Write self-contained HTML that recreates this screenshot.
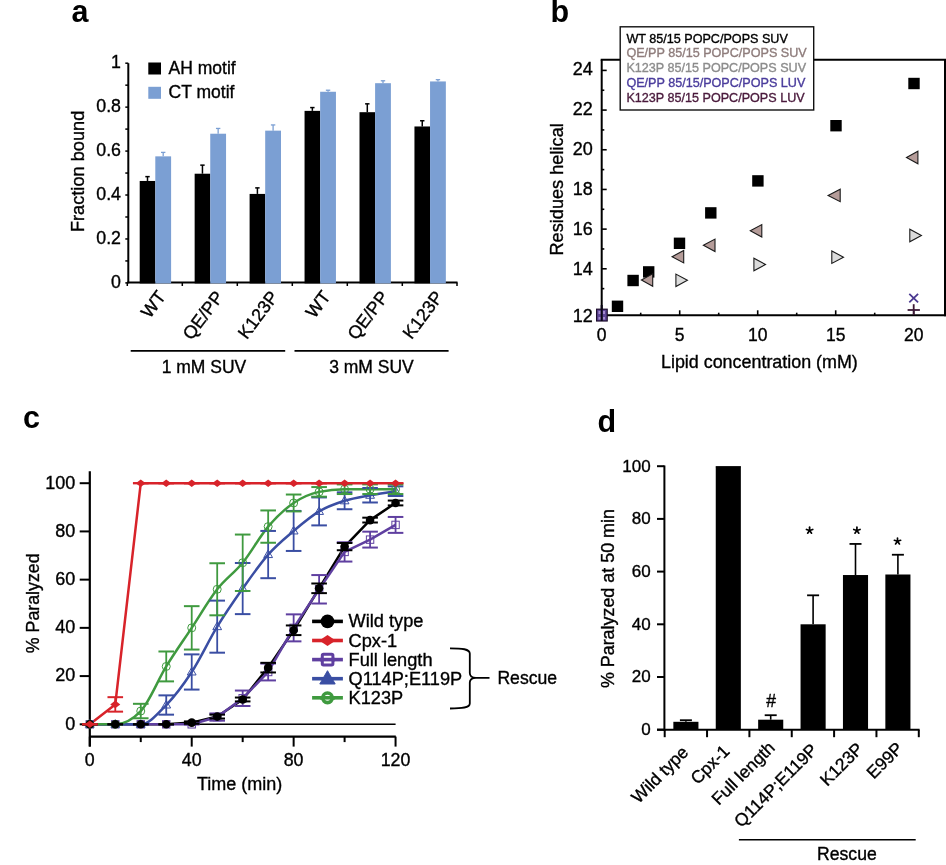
<!DOCTYPE html>
<html><head><meta charset="utf-8"><style>
html,body{margin:0;padding:0;background:#fff;}
svg{display:block;font-family:"Liberation Sans", sans-serif;will-change:transform;} text{stroke-width:0.35px;}
</style></head><body>
<svg width="946" height="865" viewBox="0 0 946 865">
<rect width="946" height="865" fill="#fff"/>
<text id="t1" x="71.50" y="22.20" font-size="30.5" text-anchor="start" fill="#000" font-weight="bold" >a</text>
<line x1="128.30" y1="63.20" x2="128.30" y2="283.20" stroke="#000" stroke-width="2" />
<line x1="125.30" y1="282.90" x2="128.30" y2="282.90" stroke="#000" stroke-width="1.5" />
<line x1="125.30" y1="260.93" x2="128.30" y2="260.93" stroke="#000" stroke-width="1.5" />
<line x1="125.30" y1="238.96" x2="128.30" y2="238.96" stroke="#000" stroke-width="1.5" />
<line x1="125.30" y1="216.99" x2="128.30" y2="216.99" stroke="#000" stroke-width="1.5" />
<line x1="125.30" y1="195.02" x2="128.30" y2="195.02" stroke="#000" stroke-width="1.5" />
<line x1="125.30" y1="173.05" x2="128.30" y2="173.05" stroke="#000" stroke-width="1.5" />
<line x1="125.30" y1="151.08" x2="128.30" y2="151.08" stroke="#000" stroke-width="1.5" />
<line x1="125.30" y1="129.11" x2="128.30" y2="129.11" stroke="#000" stroke-width="1.5" />
<line x1="125.30" y1="107.14" x2="128.30" y2="107.14" stroke="#000" stroke-width="1.5" />
<line x1="125.30" y1="85.17" x2="128.30" y2="85.17" stroke="#000" stroke-width="1.5" />
<line x1="125.30" y1="63.20" x2="128.30" y2="63.20" stroke="#000" stroke-width="1.5" />
<text id="t2" x="121.00" y="287.90" font-size="17.8" text-anchor="end" fill="#000" stroke="#000" font-weight="normal" >0</text>
<text id="t3" x="121.00" y="243.96" font-size="17.8" text-anchor="end" fill="#000" stroke="#000" font-weight="normal" >0.2</text>
<text id="t4" x="121.00" y="200.02" font-size="17.8" text-anchor="end" fill="#000" stroke="#000" font-weight="normal" >0.4</text>
<text id="t5" x="121.00" y="156.08" font-size="17.8" text-anchor="end" fill="#000" stroke="#000" font-weight="normal" >0.6</text>
<text id="t6" x="121.00" y="112.14" font-size="17.8" text-anchor="end" fill="#000" stroke="#000" font-weight="normal" >0.8</text>
<text id="t7" x="121.00" y="68.20" font-size="17.8" text-anchor="end" fill="#000" stroke="#000" font-weight="normal" >1</text>
<text id="t8" x="84.40" y="171.60" font-size="18.2" text-anchor="middle" fill="#000" stroke="#000" font-weight="normal" transform="rotate(-90 84.2 171.6)" >Fraction bound</text>
<line x1="127.30" y1="282.40" x2="457.50" y2="282.40" stroke="#000" stroke-width="2" />
<line x1="127.30" y1="282.40" x2="127.30" y2="286.00" stroke="#000" stroke-width="1.5" />
<line x1="182.30" y1="282.40" x2="182.30" y2="286.00" stroke="#000" stroke-width="1.5" />
<line x1="237.30" y1="282.40" x2="237.30" y2="286.00" stroke="#000" stroke-width="1.5" />
<line x1="292.30" y1="282.40" x2="292.30" y2="286.00" stroke="#000" stroke-width="1.5" />
<line x1="347.30" y1="282.40" x2="347.30" y2="286.00" stroke="#000" stroke-width="1.5" />
<line x1="402.30" y1="282.40" x2="402.30" y2="286.00" stroke="#000" stroke-width="1.5" />
<line x1="457.00" y1="282.40" x2="457.00" y2="286.00" stroke="#000" stroke-width="1.5" />
<rect x="139.70" y="180.96" width="15.60" height="102.44" fill="#000" />
<line x1="147.50" y1="180.96" x2="147.50" y2="176.63" stroke="#000" stroke-width="1.5" />
<line x1="145.30" y1="176.63" x2="149.70" y2="176.63" stroke="#000" stroke-width="1.5" />
<rect x="155.30" y="156.35" width="15.80" height="127.05" fill="#7b9fd3" />
<line x1="163.20" y1="156.35" x2="163.20" y2="152.40" stroke="#7b9fd3" stroke-width="1.3" />
<line x1="161.00" y1="152.40" x2="165.40" y2="152.40" stroke="#7b9fd3" stroke-width="1.3" />
<rect x="194.65" y="173.71" width="15.60" height="109.69" fill="#000" />
<line x1="202.45" y1="173.71" x2="202.45" y2="165.14" stroke="#000" stroke-width="1.5" />
<line x1="200.25" y1="165.14" x2="204.65" y2="165.14" stroke="#000" stroke-width="1.5" />
<rect x="210.25" y="133.72" width="15.80" height="149.68" fill="#7b9fd3" />
<line x1="218.15" y1="133.72" x2="218.15" y2="128.45" stroke="#7b9fd3" stroke-width="1.3" />
<line x1="215.95" y1="128.45" x2="220.35" y2="128.45" stroke="#7b9fd3" stroke-width="1.3" />
<rect x="249.60" y="193.92" width="15.60" height="89.48" fill="#000" />
<line x1="257.40" y1="193.92" x2="257.40" y2="187.88" stroke="#000" stroke-width="1.5" />
<line x1="255.20" y1="187.88" x2="259.60" y2="187.88" stroke="#000" stroke-width="1.5" />
<rect x="265.20" y="130.65" width="15.80" height="152.75" fill="#7b9fd3" />
<line x1="273.10" y1="130.65" x2="273.10" y2="124.94" stroke="#7b9fd3" stroke-width="1.3" />
<line x1="270.90" y1="124.94" x2="275.30" y2="124.94" stroke="#7b9fd3" stroke-width="1.3" />
<rect x="304.55" y="110.87" width="15.60" height="172.53" fill="#000" />
<line x1="312.35" y1="110.87" x2="312.35" y2="107.58" stroke="#000" stroke-width="1.5" />
<line x1="310.15" y1="107.58" x2="314.55" y2="107.58" stroke="#000" stroke-width="1.5" />
<rect x="320.15" y="91.76" width="15.80" height="191.64" fill="#7b9fd3" />
<line x1="328.05" y1="91.76" x2="328.05" y2="90.22" stroke="#7b9fd3" stroke-width="1.3" />
<line x1="325.85" y1="90.22" x2="330.25" y2="90.22" stroke="#7b9fd3" stroke-width="1.3" />
<rect x="359.50" y="112.19" width="15.60" height="171.21" fill="#000" />
<line x1="367.30" y1="112.19" x2="367.30" y2="103.84" stroke="#000" stroke-width="1.5" />
<line x1="365.10" y1="103.84" x2="369.50" y2="103.84" stroke="#000" stroke-width="1.5" />
<rect x="375.10" y="83.19" width="15.80" height="200.21" fill="#7b9fd3" />
<line x1="383.00" y1="83.19" x2="383.00" y2="80.78" stroke="#7b9fd3" stroke-width="1.3" />
<line x1="380.80" y1="80.78" x2="385.20" y2="80.78" stroke="#7b9fd3" stroke-width="1.3" />
<rect x="414.45" y="126.47" width="15.60" height="156.93" fill="#000" />
<line x1="422.25" y1="126.47" x2="422.25" y2="120.76" stroke="#000" stroke-width="1.5" />
<line x1="420.05" y1="120.76" x2="424.45" y2="120.76" stroke="#000" stroke-width="1.5" />
<rect x="430.05" y="81.44" width="15.80" height="201.96" fill="#7b9fd3" />
<line x1="437.95" y1="81.44" x2="437.95" y2="79.68" stroke="#7b9fd3" stroke-width="1.3" />
<line x1="435.75" y1="79.68" x2="440.15" y2="79.68" stroke="#7b9fd3" stroke-width="1.3" />
<rect x="148.30" y="62.50" width="12.70" height="12.00" fill="#000" />
<rect x="148.30" y="86.80" width="12.70" height="12.00" fill="#7b9fd3" />
<text id="t9" x="168.60" y="74.20" font-size="17.5" text-anchor="start" fill="#000" stroke="#000" font-weight="normal" >AH motif</text>
<text id="t10" x="168.60" y="98.40" font-size="17.5" text-anchor="start" fill="#000" stroke="#000" font-weight="normal" >CT motif</text>
<text id="t11" x="166.60" y="296.80" font-size="18" text-anchor="end" fill="#000" stroke="#000" font-weight="normal" transform="rotate(-53 166.60 296.80)" >WT</text>
<text id="t12" x="224.55" y="297.00" font-size="18" text-anchor="end" fill="#000" stroke="#000" font-weight="normal" transform="rotate(-53 224.55 297.00)" >QE/PP</text>
<text id="t13" x="279.20" y="297.00" font-size="18" text-anchor="end" fill="#000" stroke="#000" font-weight="normal" transform="rotate(-53 279.20 297.00)" >K123P</text>
<text id="t14" x="331.45" y="296.80" font-size="18" text-anchor="end" fill="#000" stroke="#000" font-weight="normal" transform="rotate(-53 331.45 296.80)" >WT</text>
<text id="t15" x="389.40" y="297.00" font-size="18" text-anchor="end" fill="#000" stroke="#000" font-weight="normal" transform="rotate(-53 389.40 297.00)" >QE/PP</text>
<text id="t16" x="444.05" y="297.00" font-size="18" text-anchor="end" fill="#000" stroke="#000" font-weight="normal" transform="rotate(-53 444.05 297.00)" >K123P</text>
<line x1="130.70" y1="350.90" x2="285.20" y2="350.90" stroke="#000" stroke-width="1.6" />
<line x1="294.50" y1="350.90" x2="448.60" y2="350.90" stroke="#000" stroke-width="1.6" />
<text id="t17" x="204.00" y="372.70" font-size="17.5" text-anchor="middle" fill="#000" stroke="#000" font-weight="normal" >1 mM SUV</text>
<text id="t18" x="371.50" y="372.70" font-size="17.5" text-anchor="middle" fill="#000" stroke="#000" font-weight="normal" >3 mM SUV</text>
<text id="t19" x="550.50" y="22.00" font-size="30.5" text-anchor="start" fill="#000" font-weight="bold" >b</text>
<line x1="601.70" y1="59.80" x2="601.70" y2="316.30" stroke="#000" stroke-width="2" />
<line x1="600.70" y1="315.30" x2="946.00" y2="315.30" stroke="#000" stroke-width="2" />
<line x1="600.70" y1="59.80" x2="946.00" y2="59.80" stroke="#000" stroke-width="2" />
<line x1="945.00" y1="59.00" x2="945.00" y2="316.30" stroke="#000" stroke-width="2" />
<line x1="601.70" y1="288.64" x2="604.30" y2="288.64" stroke="#000" stroke-width="1.6" />
<line x1="601.70" y1="268.80" x2="606.70" y2="268.80" stroke="#000" stroke-width="1.6" />
<line x1="601.70" y1="248.96" x2="604.30" y2="248.96" stroke="#000" stroke-width="1.6" />
<line x1="601.70" y1="229.12" x2="606.70" y2="229.12" stroke="#000" stroke-width="1.6" />
<line x1="601.70" y1="209.28" x2="604.30" y2="209.28" stroke="#000" stroke-width="1.6" />
<line x1="601.70" y1="189.44" x2="606.70" y2="189.44" stroke="#000" stroke-width="1.6" />
<line x1="601.70" y1="169.60" x2="604.30" y2="169.60" stroke="#000" stroke-width="1.6" />
<line x1="601.70" y1="149.76" x2="606.70" y2="149.76" stroke="#000" stroke-width="1.6" />
<line x1="601.70" y1="129.92" x2="604.30" y2="129.92" stroke="#000" stroke-width="1.6" />
<line x1="601.70" y1="110.08" x2="606.70" y2="110.08" stroke="#000" stroke-width="1.6" />
<line x1="601.70" y1="90.24" x2="604.30" y2="90.24" stroke="#000" stroke-width="1.6" />
<line x1="601.70" y1="70.40" x2="606.70" y2="70.40" stroke="#000" stroke-width="1.6" />
<text id="t20" x="592.80" y="75.10" font-size="18" text-anchor="end" fill="#000" stroke="#000" font-weight="normal" >24</text>
<text id="t21" x="592.80" y="115.15" font-size="18" text-anchor="end" fill="#000" stroke="#000" font-weight="normal" >22</text>
<text id="t22" x="592.80" y="155.20" font-size="18" text-anchor="end" fill="#000" stroke="#000" font-weight="normal" >20</text>
<text id="t23" x="592.80" y="195.25" font-size="18" text-anchor="end" fill="#000" stroke="#000" font-weight="normal" >18</text>
<text id="t24" x="592.80" y="235.30" font-size="18" text-anchor="end" fill="#000" stroke="#000" font-weight="normal" >16</text>
<text id="t25" x="592.80" y="275.35" font-size="18" text-anchor="end" fill="#000" stroke="#000" font-weight="normal" >14</text>
<text id="t26" x="592.80" y="321.80" font-size="18" text-anchor="end" fill="#000" stroke="#000" font-weight="normal" >12</text>
<line x1="640.70" y1="315.30" x2="640.70" y2="312.70" stroke="#000" stroke-width="1.6" />
<line x1="679.70" y1="315.30" x2="679.70" y2="310.30" stroke="#000" stroke-width="1.6" />
<line x1="718.70" y1="315.30" x2="718.70" y2="312.70" stroke="#000" stroke-width="1.6" />
<line x1="757.70" y1="315.30" x2="757.70" y2="310.30" stroke="#000" stroke-width="1.6" />
<line x1="796.70" y1="315.30" x2="796.70" y2="312.70" stroke="#000" stroke-width="1.6" />
<line x1="835.70" y1="315.30" x2="835.70" y2="310.30" stroke="#000" stroke-width="1.6" />
<line x1="874.70" y1="315.30" x2="874.70" y2="312.70" stroke="#000" stroke-width="1.6" />
<line x1="913.70" y1="315.30" x2="913.70" y2="310.30" stroke="#000" stroke-width="1.6" />
<text id="t27" x="601.70" y="340.80" font-size="17.5" text-anchor="middle" fill="#000" stroke="#000" font-weight="normal" >0</text>
<text id="t28" x="679.70" y="340.80" font-size="17.5" text-anchor="middle" fill="#000" stroke="#000" font-weight="normal" >5</text>
<text id="t29" x="757.70" y="340.80" font-size="17.5" text-anchor="middle" fill="#000" stroke="#000" font-weight="normal" >10</text>
<text id="t30" x="835.70" y="340.80" font-size="17.5" text-anchor="middle" fill="#000" stroke="#000" font-weight="normal" >15</text>
<text id="t31" x="913.70" y="340.80" font-size="17.5" text-anchor="middle" fill="#000" stroke="#000" font-weight="normal" >20</text>
<text id="t32" x="759.40" y="367.60" font-size="17.9" text-anchor="middle" fill="#000" stroke="#000" font-weight="normal" >Lipid concentration (mM)</text>
<text id="t33" x="563.50" y="189.40" font-size="18.2" text-anchor="middle" fill="#000" stroke="#000" font-weight="normal" transform="rotate(-90 563.5 189.4)" >Residues helical</text>
<rect x="596.6" y="309.2" width="10.6" height="11.8" fill="#5f4698" stroke="#1c0c2c" stroke-width="1.2"/>
<g fill="#a58ad0"><rect x="598.5" y="311" width="2.2" height="3"/><rect x="603" y="311" width="2" height="3"/><rect x="598.5" y="317" width="2.2" height="2.5"/><rect x="603" y="317" width="2" height="2.5"/></g>
<line x1="601.70" y1="305.00" x2="601.70" y2="321.00" stroke="#0a0514" stroke-width="2" />
<rect x="611.80" y="300.60" width="11.40" height="11.40" fill="#000" />
<rect x="627.40" y="274.80" width="11.40" height="11.40" fill="#000" />
<rect x="643.00" y="266.20" width="11.40" height="11.40" fill="#000" />
<rect x="673.80" y="237.60" width="11.40" height="11.40" fill="#000" />
<rect x="705.10" y="207.20" width="11.40" height="11.40" fill="#000" />
<rect x="752.20" y="175.20" width="11.40" height="11.40" fill="#000" />
<rect x="830.30" y="120.00" width="11.40" height="11.40" fill="#000" />
<rect x="908.30" y="77.80" width="11.40" height="11.40" fill="#000" />
<polygon points="641.40,280.10 652.70,273.85 652.70,286.35" fill="#b59c99" stroke="#1a1a1a" stroke-width="1.1" stroke-linejoin="miter"/>
<polygon points="672.10,256.70 683.70,250.45 683.70,262.95" fill="#b59c99" stroke="#1a1a1a" stroke-width="1.1" stroke-linejoin="miter"/>
<polygon points="703.40,245.30 715.00,239.05 715.00,251.55" fill="#b59c99" stroke="#1a1a1a" stroke-width="1.1" stroke-linejoin="miter"/>
<polygon points="750.30,230.80 761.80,224.55 761.80,237.05" fill="#b59c99" stroke="#1a1a1a" stroke-width="1.1" stroke-linejoin="miter"/>
<polygon points="828.10,195.40 840.20,189.15 840.20,201.65" fill="#b59c99" stroke="#1a1a1a" stroke-width="1.1" stroke-linejoin="miter"/>
<polygon points="906.50,157.50 917.90,151.25 917.90,163.75" fill="#b59c99" stroke="#1a1a1a" stroke-width="1.1" stroke-linejoin="miter"/>
<polygon points="687.40,280.30 675.90,274.05 675.90,286.55" fill="#dcdcdc" stroke="#1a1a1a" stroke-width="1.1" stroke-linejoin="miter"/>
<polygon points="765.50,264.50 753.90,258.25 753.90,270.75" fill="#dcdcdc" stroke="#1a1a1a" stroke-width="1.1" stroke-linejoin="miter"/>
<polygon points="843.50,257.20 831.80,250.95 831.80,263.45" fill="#dcdcdc" stroke="#1a1a1a" stroke-width="1.1" stroke-linejoin="miter"/>
<polygon points="921.40,235.50 909.80,229.25 909.80,241.75" fill="#dcdcdc" stroke="#1a1a1a" stroke-width="1.1" stroke-linejoin="miter"/>
<g stroke="#4a3890" stroke-width="1.8"><line x1="909.3" y1="293.9" x2="918.1" y2="302.3"/><line x1="918.1" y1="293.9" x2="909.3" y2="302.3"/></g>
<g stroke="#3c1836" stroke-width="1.8"><line x1="907.6" y1="310" x2="919.9" y2="310"/><line x1="913.7" y1="304.2" x2="913.7" y2="315"/></g>
<rect x="620.2" y="26.8" width="193.5" height="83.2" fill="#fff" stroke="#111" stroke-width="1.4"/>
<text id="t34" x="626.40" y="42.50" font-size="12.6" text-anchor="start" fill="#000" stroke="#000" font-weight="normal" >WT 85/15 POPC/POPS SUV</text>
<text id="t35" x="626.40" y="57.28" font-size="12.6" text-anchor="start" fill="#8e7c7b" stroke="#8e7c7b" font-weight="normal" >QE/PP 85/15 POPC/POPS SUV</text>
<text id="t36" x="626.40" y="72.06" font-size="12.6" text-anchor="start" fill="#8c8c8c" stroke="#8c8c8c" font-weight="normal" >K123P 85/15 POPC/POPS SUV</text>
<text id="t37" x="626.40" y="86.84" font-size="12.6" text-anchor="start" fill="#4a3c9c" stroke="#4a3c9c" font-weight="normal" >QE/PP 85/15/POPC/POPS LUV</text>
<text id="t38" x="626.40" y="101.62" font-size="12.6" text-anchor="start" fill="#4a1a3c" stroke="#4a1a3c" font-weight="normal" >K123P 85/15 POPC/POPS LUV</text>
<text id="t39" x="23.00" y="428.00" font-size="30.5" text-anchor="start" fill="#000" font-weight="bold" >c</text>
<line x1="89.80" y1="471.20" x2="89.80" y2="746.50" stroke="#000" stroke-width="2.2" />
<line x1="79.70" y1="724.30" x2="89.80" y2="724.30" stroke="#000" stroke-width="2" />
<text id="t40" x="75.20" y="729.60" font-size="18" text-anchor="end" fill="#000" stroke="#000" font-weight="normal" >0</text>
<line x1="79.70" y1="676.08" x2="89.80" y2="676.08" stroke="#000" stroke-width="2" />
<text id="t41" x="75.20" y="681.38" font-size="18" text-anchor="end" fill="#000" stroke="#000" font-weight="normal" >20</text>
<line x1="79.70" y1="627.86" x2="89.80" y2="627.86" stroke="#000" stroke-width="2" />
<text id="t42" x="75.20" y="633.16" font-size="18" text-anchor="end" fill="#000" stroke="#000" font-weight="normal" >40</text>
<line x1="79.70" y1="579.64" x2="89.80" y2="579.64" stroke="#000" stroke-width="2" />
<text id="t43" x="75.20" y="584.94" font-size="18" text-anchor="end" fill="#000" stroke="#000" font-weight="normal" >60</text>
<line x1="79.70" y1="531.42" x2="89.80" y2="531.42" stroke="#000" stroke-width="2" />
<text id="t44" x="75.20" y="536.72" font-size="18" text-anchor="end" fill="#000" stroke="#000" font-weight="normal" >80</text>
<line x1="79.70" y1="483.20" x2="89.80" y2="483.20" stroke="#000" stroke-width="2" />
<text id="t45" x="75.20" y="488.50" font-size="18" text-anchor="end" fill="#000" stroke="#000" font-weight="normal" >100</text>
<line x1="89.80" y1="736.60" x2="395.80" y2="736.60" stroke="#000" stroke-width="2.2" />
<line x1="89.80" y1="736.60" x2="89.80" y2="746.60" stroke="#000" stroke-width="2" />
<line x1="140.76" y1="736.60" x2="140.76" y2="742.10" stroke="#000" stroke-width="2" />
<line x1="191.72" y1="736.60" x2="191.72" y2="746.60" stroke="#000" stroke-width="2" />
<line x1="242.68" y1="736.60" x2="242.68" y2="742.10" stroke="#000" stroke-width="2" />
<line x1="293.64" y1="736.60" x2="293.64" y2="746.60" stroke="#000" stroke-width="2" />
<line x1="344.60" y1="736.60" x2="344.60" y2="742.10" stroke="#000" stroke-width="2" />
<line x1="395.56" y1="736.60" x2="395.56" y2="746.60" stroke="#000" stroke-width="2" />
<text id="t46" x="89.80" y="765.50" font-size="17.8" text-anchor="middle" fill="#000" stroke="#000" font-weight="normal" >0</text>
<text id="t47" x="191.72" y="765.50" font-size="17.8" text-anchor="middle" fill="#000" stroke="#000" font-weight="normal" >40</text>
<text id="t48" x="293.64" y="765.50" font-size="17.8" text-anchor="middle" fill="#000" stroke="#000" font-weight="normal" >80</text>
<text id="t49" x="395.56" y="765.50" font-size="17.8" text-anchor="middle" fill="#000" stroke="#000" font-weight="normal" >120</text>
<text id="t50" x="239.60" y="789.50" font-size="18" text-anchor="middle" fill="#000" stroke="#000" font-weight="normal" >Time (min)</text>
<text id="t51" x="39.50" y="603.30" font-size="17.8" text-anchor="middle" fill="#000" stroke="#000" font-weight="normal" transform="rotate(-90 39.5 603.3)" >% Paralyzed</text>
<line x1="89.80" y1="724.30" x2="395.60" y2="724.30" stroke="#000" stroke-width="1.5" />
<path d="M89.80,724.30 L115.28,724.30 L140.76,724.30 L166.24,724.30 L191.72,722.61 L217.20,716.58 L242.68,699.47 L268.16,667.64 L293.64,630.27 L319.12,588.32 L344.60,546.61 L370.08,520.09 L395.56,502.97" fill="none" stroke="#000" stroke-width="2.5" stroke-linejoin="round"/>
<path d="M89.80,724.30 L115.28,704.41 L140.76,483.20 L166.24,483.20 L191.72,483.20 L217.20,483.20 L242.68,483.20 L268.16,483.20 L293.64,483.20 L319.12,483.20 L344.60,483.20 L370.08,483.20 L395.56,483.20" fill="none" stroke="#d8232a" stroke-width="2.5" stroke-linejoin="round"/>
<path d="M89.80,724.30 L115.28,724.30 L140.76,724.30 L166.24,724.30 L191.72,724.30 L217.20,717.07 L242.68,698.26 L268.16,671.98 L293.64,627.86 L319.12,589.28 L344.60,551.91 L370.08,539.62 L395.56,524.91" fill="none" stroke="#5f3fa0" stroke-width="2.5" stroke-linejoin="round"/>
<path d="M89.80,724.30 C98.29,724.30 106.79,724.30 115.28,724.30 C123.77,724.30 132.27,724.30 140.76,724.30 C149.25,724.30 157.75,713.73 166.24,705.01 C174.73,696.29 183.23,685.04 191.72,671.98 C200.21,658.92 208.71,640.56 217.20,626.65 C225.69,612.75 234.19,600.58 242.68,588.56 C251.17,576.55 259.67,564.17 268.16,554.57 C276.65,544.96 285.15,538.13 293.64,530.94 C302.13,523.74 310.63,516.43 319.12,511.41 C327.61,506.39 336.11,503.49 344.60,500.80 C353.09,498.11 361.59,496.86 370.08,495.25 C378.57,493.65 387.07,492.40 395.56,491.16" fill="none" stroke="#3a4ea3" stroke-width="2.5" stroke-linejoin="round"/>
<path d="M89.80,724.30 C98.29,724.30 106.79,724.30 115.28,724.30 C123.77,724.30 132.27,719.88 140.76,711.04 C149.25,702.20 157.75,680.30 166.24,666.44 C174.73,652.57 183.23,640.72 191.72,627.86 C200.21,615.00 208.71,600.13 217.20,589.28 C225.69,578.43 234.19,573.21 242.68,562.76 C251.17,552.32 259.67,536.56 268.16,526.60 C276.65,516.63 285.15,508.76 293.64,502.97 C302.13,497.18 310.63,493.65 319.12,491.88 C327.61,490.11 336.11,489.23 344.60,489.23 C353.09,489.23 361.59,489.23 370.08,489.23 C378.57,489.23 387.07,489.23 395.56,489.23" fill="none" stroke="#3f9a3f" stroke-width="2.5" stroke-linejoin="round"/>
<line x1="82.00" y1="724.30" x2="97.60" y2="724.30" stroke="#5f3fa0" stroke-width="2" />
<line x1="82.00" y1="724.30" x2="97.60" y2="724.30" stroke="#5f3fa0" stroke-width="2" />
<rect x="86.10" y="720.60" width="7.4" height="7.4" fill="none" stroke="#5f3fa0" stroke-width="1"/>
<line x1="107.48" y1="724.30" x2="123.08" y2="724.30" stroke="#5f3fa0" stroke-width="2" />
<line x1="107.48" y1="724.30" x2="123.08" y2="724.30" stroke="#5f3fa0" stroke-width="2" />
<rect x="111.58" y="720.60" width="7.4" height="7.4" fill="none" stroke="#5f3fa0" stroke-width="1"/>
<line x1="132.96" y1="724.30" x2="148.56" y2="724.30" stroke="#5f3fa0" stroke-width="2" />
<line x1="132.96" y1="724.30" x2="148.56" y2="724.30" stroke="#5f3fa0" stroke-width="2" />
<rect x="137.06" y="720.60" width="7.4" height="7.4" fill="none" stroke="#5f3fa0" stroke-width="1"/>
<line x1="158.44" y1="724.30" x2="174.04" y2="724.30" stroke="#5f3fa0" stroke-width="2" />
<line x1="158.44" y1="724.30" x2="174.04" y2="724.30" stroke="#5f3fa0" stroke-width="2" />
<rect x="162.54" y="720.60" width="7.4" height="7.4" fill="none" stroke="#5f3fa0" stroke-width="1"/>
<line x1="183.92" y1="724.30" x2="199.52" y2="724.30" stroke="#5f3fa0" stroke-width="2" />
<line x1="183.92" y1="724.30" x2="199.52" y2="724.30" stroke="#5f3fa0" stroke-width="2" />
<rect x="188.02" y="720.60" width="7.4" height="7.4" fill="none" stroke="#5f3fa0" stroke-width="1"/>
<line x1="217.20" y1="713.45" x2="217.20" y2="720.68" stroke="#5f3fa0" stroke-width="1.8" />
<line x1="209.40" y1="713.45" x2="225.00" y2="713.45" stroke="#5f3fa0" stroke-width="2" />
<line x1="209.40" y1="720.68" x2="225.00" y2="720.68" stroke="#5f3fa0" stroke-width="2" />
<rect x="213.50" y="713.37" width="7.4" height="7.4" fill="none" stroke="#5f3fa0" stroke-width="1"/>
<line x1="242.68" y1="690.55" x2="242.68" y2="705.98" stroke="#5f3fa0" stroke-width="1.8" />
<line x1="234.88" y1="690.55" x2="250.48" y2="690.55" stroke="#5f3fa0" stroke-width="2" />
<line x1="234.88" y1="705.98" x2="250.48" y2="705.98" stroke="#5f3fa0" stroke-width="2" />
<rect x="238.98" y="694.56" width="7.4" height="7.4" fill="none" stroke="#5f3fa0" stroke-width="1"/>
<line x1="268.16" y1="663.54" x2="268.16" y2="680.42" stroke="#5f3fa0" stroke-width="1.8" />
<line x1="260.36" y1="663.54" x2="275.96" y2="663.54" stroke="#5f3fa0" stroke-width="2" />
<line x1="260.36" y1="680.42" x2="275.96" y2="680.42" stroke="#5f3fa0" stroke-width="2" />
<rect x="264.46" y="668.28" width="7.4" height="7.4" fill="none" stroke="#5f3fa0" stroke-width="1"/>
<line x1="293.64" y1="614.36" x2="293.64" y2="641.36" stroke="#5f3fa0" stroke-width="1.8" />
<line x1="285.84" y1="614.36" x2="301.44" y2="614.36" stroke="#5f3fa0" stroke-width="2" />
<line x1="285.84" y1="641.36" x2="301.44" y2="641.36" stroke="#5f3fa0" stroke-width="2" />
<rect x="289.94" y="624.16" width="7.4" height="7.4" fill="none" stroke="#5f3fa0" stroke-width="1"/>
<line x1="319.12" y1="575.06" x2="319.12" y2="603.51" stroke="#5f3fa0" stroke-width="1.8" />
<line x1="311.32" y1="575.06" x2="326.92" y2="575.06" stroke="#5f3fa0" stroke-width="2" />
<line x1="311.32" y1="603.51" x2="326.92" y2="603.51" stroke="#5f3fa0" stroke-width="2" />
<rect x="315.42" y="585.58" width="7.4" height="7.4" fill="none" stroke="#5f3fa0" stroke-width="1"/>
<line x1="344.60" y1="542.27" x2="344.60" y2="561.56" stroke="#5f3fa0" stroke-width="1.8" />
<line x1="336.80" y1="542.27" x2="352.40" y2="542.27" stroke="#5f3fa0" stroke-width="2" />
<line x1="336.80" y1="561.56" x2="352.40" y2="561.56" stroke="#5f3fa0" stroke-width="2" />
<rect x="340.90" y="548.21" width="7.4" height="7.4" fill="none" stroke="#5f3fa0" stroke-width="1"/>
<line x1="370.08" y1="531.66" x2="370.08" y2="547.57" stroke="#5f3fa0" stroke-width="1.8" />
<line x1="362.28" y1="531.66" x2="377.88" y2="531.66" stroke="#5f3fa0" stroke-width="2" />
<line x1="362.28" y1="547.57" x2="377.88" y2="547.57" stroke="#5f3fa0" stroke-width="2" />
<rect x="366.38" y="535.92" width="7.4" height="7.4" fill="none" stroke="#5f3fa0" stroke-width="1"/>
<line x1="395.56" y1="516.95" x2="395.56" y2="532.87" stroke="#5f3fa0" stroke-width="1.8" />
<line x1="387.76" y1="516.95" x2="403.36" y2="516.95" stroke="#5f3fa0" stroke-width="2" />
<line x1="387.76" y1="532.87" x2="403.36" y2="532.87" stroke="#5f3fa0" stroke-width="2" />
<rect x="391.86" y="521.21" width="7.4" height="7.4" fill="none" stroke="#5f3fa0" stroke-width="1"/>
<line x1="82.00" y1="724.30" x2="97.60" y2="724.30" stroke="#3a4ea3" stroke-width="2" />
<line x1="82.00" y1="724.30" x2="97.60" y2="724.30" stroke="#3a4ea3" stroke-width="2" />
<polygon points="89.80,719.70 94.20,727.30 85.40,727.30" fill="none" stroke="#3a4ea3" stroke-width="1"/>
<line x1="107.48" y1="724.30" x2="123.08" y2="724.30" stroke="#3a4ea3" stroke-width="2" />
<line x1="107.48" y1="724.30" x2="123.08" y2="724.30" stroke="#3a4ea3" stroke-width="2" />
<polygon points="115.28,719.70 119.68,727.30 110.88,727.30" fill="none" stroke="#3a4ea3" stroke-width="1"/>
<line x1="132.96" y1="724.30" x2="148.56" y2="724.30" stroke="#3a4ea3" stroke-width="2" />
<line x1="132.96" y1="724.30" x2="148.56" y2="724.30" stroke="#3a4ea3" stroke-width="2" />
<polygon points="140.76,719.70 145.16,727.30 136.36,727.30" fill="none" stroke="#3a4ea3" stroke-width="1"/>
<line x1="166.24" y1="695.37" x2="166.24" y2="714.66" stroke="#3a4ea3" stroke-width="1.8" />
<line x1="158.44" y1="695.37" x2="174.04" y2="695.37" stroke="#3a4ea3" stroke-width="2" />
<line x1="158.44" y1="714.66" x2="174.04" y2="714.66" stroke="#3a4ea3" stroke-width="2" />
<polygon points="166.24,700.41 170.64,708.01 161.84,708.01" fill="none" stroke="#3a4ea3" stroke-width="1"/>
<line x1="191.72" y1="654.38" x2="191.72" y2="689.58" stroke="#3a4ea3" stroke-width="1.8" />
<line x1="183.92" y1="654.38" x2="199.52" y2="654.38" stroke="#3a4ea3" stroke-width="2" />
<line x1="183.92" y1="689.58" x2="199.52" y2="689.58" stroke="#3a4ea3" stroke-width="2" />
<polygon points="191.72,667.38 196.12,674.98 187.32,674.98" fill="none" stroke="#3a4ea3" stroke-width="1"/>
<line x1="217.20" y1="600.62" x2="217.20" y2="652.69" stroke="#3a4ea3" stroke-width="1.8" />
<line x1="209.40" y1="600.62" x2="225.00" y2="600.62" stroke="#3a4ea3" stroke-width="2" />
<line x1="209.40" y1="652.69" x2="225.00" y2="652.69" stroke="#3a4ea3" stroke-width="2" />
<polygon points="217.20,622.05 221.60,629.65 212.80,629.65" fill="none" stroke="#3a4ea3" stroke-width="1"/>
<line x1="242.68" y1="563.00" x2="242.68" y2="614.12" stroke="#3a4ea3" stroke-width="1.8" />
<line x1="234.88" y1="563.00" x2="250.48" y2="563.00" stroke="#3a4ea3" stroke-width="2" />
<line x1="234.88" y1="614.12" x2="250.48" y2="614.12" stroke="#3a4ea3" stroke-width="2" />
<polygon points="242.68,583.96 247.08,591.56 238.28,591.56" fill="none" stroke="#3a4ea3" stroke-width="1"/>
<line x1="268.16" y1="530.94" x2="268.16" y2="578.19" stroke="#3a4ea3" stroke-width="1.8" />
<line x1="260.36" y1="530.94" x2="275.96" y2="530.94" stroke="#3a4ea3" stroke-width="2" />
<line x1="260.36" y1="578.19" x2="275.96" y2="578.19" stroke="#3a4ea3" stroke-width="2" />
<polygon points="268.16,549.97 272.56,557.57 263.76,557.57" fill="none" stroke="#3a4ea3" stroke-width="1"/>
<line x1="293.64" y1="510.93" x2="293.64" y2="550.95" stroke="#3a4ea3" stroke-width="1.8" />
<line x1="285.84" y1="510.93" x2="301.44" y2="510.93" stroke="#3a4ea3" stroke-width="2" />
<line x1="285.84" y1="550.95" x2="301.44" y2="550.95" stroke="#3a4ea3" stroke-width="2" />
<polygon points="293.64,526.34 298.04,533.94 289.24,533.94" fill="none" stroke="#3a4ea3" stroke-width="1"/>
<line x1="319.12" y1="497.42" x2="319.12" y2="525.39" stroke="#3a4ea3" stroke-width="1.8" />
<line x1="311.32" y1="497.42" x2="326.92" y2="497.42" stroke="#3a4ea3" stroke-width="2" />
<line x1="311.32" y1="525.39" x2="326.92" y2="525.39" stroke="#3a4ea3" stroke-width="2" />
<polygon points="319.12,506.81 323.52,514.41 314.72,514.41" fill="none" stroke="#3a4ea3" stroke-width="1"/>
<line x1="344.60" y1="492.36" x2="344.60" y2="509.24" stroke="#3a4ea3" stroke-width="1.8" />
<line x1="336.80" y1="492.36" x2="352.40" y2="492.36" stroke="#3a4ea3" stroke-width="2" />
<line x1="336.80" y1="509.24" x2="352.40" y2="509.24" stroke="#3a4ea3" stroke-width="2" />
<polygon points="344.60,496.20 349.00,503.80 340.20,503.80" fill="none" stroke="#3a4ea3" stroke-width="1"/>
<line x1="370.08" y1="488.02" x2="370.08" y2="502.49" stroke="#3a4ea3" stroke-width="1.8" />
<line x1="362.28" y1="488.02" x2="377.88" y2="488.02" stroke="#3a4ea3" stroke-width="2" />
<line x1="362.28" y1="502.49" x2="377.88" y2="502.49" stroke="#3a4ea3" stroke-width="2" />
<polygon points="370.08,490.65 374.48,498.25 365.68,498.25" fill="none" stroke="#3a4ea3" stroke-width="1"/>
<line x1="395.56" y1="486.33" x2="395.56" y2="495.98" stroke="#3a4ea3" stroke-width="1.8" />
<line x1="387.76" y1="486.33" x2="403.36" y2="486.33" stroke="#3a4ea3" stroke-width="2" />
<line x1="387.76" y1="495.98" x2="403.36" y2="495.98" stroke="#3a4ea3" stroke-width="2" />
<polygon points="395.56,486.56 399.96,494.16 391.16,494.16" fill="none" stroke="#3a4ea3" stroke-width="1"/>
<line x1="82.00" y1="724.30" x2="97.60" y2="724.30" stroke="#3f9a3f" stroke-width="2" />
<line x1="82.00" y1="724.30" x2="97.60" y2="724.30" stroke="#3f9a3f" stroke-width="2" />
<circle cx="89.80" cy="724.30" r="4" fill="none" stroke="#3f9a3f" stroke-width="1"/>
<line x1="107.48" y1="724.30" x2="123.08" y2="724.30" stroke="#3f9a3f" stroke-width="2" />
<line x1="107.48" y1="724.30" x2="123.08" y2="724.30" stroke="#3f9a3f" stroke-width="2" />
<circle cx="115.28" cy="724.30" r="4" fill="none" stroke="#3f9a3f" stroke-width="1"/>
<line x1="140.76" y1="703.81" x2="140.76" y2="718.27" stroke="#3f9a3f" stroke-width="1.8" />
<line x1="132.96" y1="703.81" x2="148.56" y2="703.81" stroke="#3f9a3f" stroke-width="2" />
<line x1="132.96" y1="718.27" x2="148.56" y2="718.27" stroke="#3f9a3f" stroke-width="2" />
<circle cx="140.76" cy="711.04" r="4" fill="none" stroke="#3f9a3f" stroke-width="1"/>
<line x1="166.24" y1="651.49" x2="166.24" y2="681.38" stroke="#3f9a3f" stroke-width="1.8" />
<line x1="158.44" y1="651.49" x2="174.04" y2="651.49" stroke="#3f9a3f" stroke-width="2" />
<line x1="158.44" y1="681.38" x2="174.04" y2="681.38" stroke="#3f9a3f" stroke-width="2" />
<circle cx="166.24" cy="666.44" r="4" fill="none" stroke="#3f9a3f" stroke-width="1"/>
<line x1="191.72" y1="606.16" x2="191.72" y2="649.56" stroke="#3f9a3f" stroke-width="1.8" />
<line x1="183.92" y1="606.16" x2="199.52" y2="606.16" stroke="#3f9a3f" stroke-width="2" />
<line x1="183.92" y1="649.56" x2="199.52" y2="649.56" stroke="#3f9a3f" stroke-width="2" />
<circle cx="191.72" cy="627.86" r="4" fill="none" stroke="#3f9a3f" stroke-width="1"/>
<line x1="217.20" y1="563.25" x2="217.20" y2="615.32" stroke="#3f9a3f" stroke-width="1.8" />
<line x1="209.40" y1="563.25" x2="225.00" y2="563.25" stroke="#3f9a3f" stroke-width="2" />
<line x1="209.40" y1="615.32" x2="225.00" y2="615.32" stroke="#3f9a3f" stroke-width="2" />
<circle cx="217.20" cy="589.28" r="4" fill="none" stroke="#3f9a3f" stroke-width="1"/>
<line x1="242.68" y1="534.55" x2="242.68" y2="590.97" stroke="#3f9a3f" stroke-width="1.8" />
<line x1="234.88" y1="534.55" x2="250.48" y2="534.55" stroke="#3f9a3f" stroke-width="2" />
<line x1="234.88" y1="590.97" x2="250.48" y2="590.97" stroke="#3f9a3f" stroke-width="2" />
<circle cx="242.68" cy="562.76" r="4" fill="none" stroke="#3f9a3f" stroke-width="1"/>
<line x1="268.16" y1="510.44" x2="268.16" y2="542.75" stroke="#3f9a3f" stroke-width="1.8" />
<line x1="260.36" y1="510.44" x2="275.96" y2="510.44" stroke="#3f9a3f" stroke-width="2" />
<line x1="260.36" y1="542.75" x2="275.96" y2="542.75" stroke="#3f9a3f" stroke-width="2" />
<circle cx="268.16" cy="526.60" r="4" fill="none" stroke="#3f9a3f" stroke-width="1"/>
<line x1="293.64" y1="494.53" x2="293.64" y2="511.41" stroke="#3f9a3f" stroke-width="1.8" />
<line x1="285.84" y1="494.53" x2="301.44" y2="494.53" stroke="#3f9a3f" stroke-width="2" />
<line x1="285.84" y1="511.41" x2="301.44" y2="511.41" stroke="#3f9a3f" stroke-width="2" />
<circle cx="293.64" cy="502.97" r="4" fill="none" stroke="#3f9a3f" stroke-width="1"/>
<line x1="319.12" y1="487.06" x2="319.12" y2="496.70" stroke="#3f9a3f" stroke-width="1.8" />
<line x1="311.32" y1="487.06" x2="326.92" y2="487.06" stroke="#3f9a3f" stroke-width="2" />
<line x1="311.32" y1="496.70" x2="326.92" y2="496.70" stroke="#3f9a3f" stroke-width="2" />
<circle cx="319.12" cy="491.88" r="4" fill="none" stroke="#3f9a3f" stroke-width="1"/>
<line x1="344.60" y1="484.41" x2="344.60" y2="494.05" stroke="#3f9a3f" stroke-width="1.8" />
<line x1="336.80" y1="484.41" x2="352.40" y2="484.41" stroke="#3f9a3f" stroke-width="2" />
<line x1="336.80" y1="494.05" x2="352.40" y2="494.05" stroke="#3f9a3f" stroke-width="2" />
<circle cx="344.60" cy="489.23" r="4" fill="none" stroke="#3f9a3f" stroke-width="1"/>
<line x1="370.08" y1="484.41" x2="370.08" y2="494.05" stroke="#3f9a3f" stroke-width="1.8" />
<line x1="362.28" y1="484.41" x2="377.88" y2="484.41" stroke="#3f9a3f" stroke-width="2" />
<line x1="362.28" y1="494.05" x2="377.88" y2="494.05" stroke="#3f9a3f" stroke-width="2" />
<circle cx="370.08" cy="489.23" r="4" fill="none" stroke="#3f9a3f" stroke-width="1"/>
<line x1="395.56" y1="484.41" x2="395.56" y2="494.05" stroke="#3f9a3f" stroke-width="1.8" />
<line x1="387.76" y1="484.41" x2="403.36" y2="484.41" stroke="#3f9a3f" stroke-width="2" />
<line x1="387.76" y1="494.05" x2="403.36" y2="494.05" stroke="#3f9a3f" stroke-width="2" />
<circle cx="395.56" cy="489.23" r="4" fill="none" stroke="#3f9a3f" stroke-width="1"/>
<line x1="82.00" y1="724.30" x2="97.60" y2="724.30" stroke="#000" stroke-width="2" />
<line x1="82.00" y1="724.30" x2="97.60" y2="724.30" stroke="#000" stroke-width="2" />
<circle cx="89.80" cy="724.30" r="4.3" fill="#000"/>
<line x1="107.48" y1="724.30" x2="123.08" y2="724.30" stroke="#000" stroke-width="2" />
<line x1="107.48" y1="724.30" x2="123.08" y2="724.30" stroke="#000" stroke-width="2" />
<circle cx="115.28" cy="724.30" r="4.3" fill="#000"/>
<line x1="132.96" y1="724.30" x2="148.56" y2="724.30" stroke="#000" stroke-width="2" />
<line x1="132.96" y1="724.30" x2="148.56" y2="724.30" stroke="#000" stroke-width="2" />
<circle cx="140.76" cy="724.30" r="4.3" fill="#000"/>
<line x1="158.44" y1="724.30" x2="174.04" y2="724.30" stroke="#000" stroke-width="2" />
<line x1="158.44" y1="724.30" x2="174.04" y2="724.30" stroke="#000" stroke-width="2" />
<circle cx="166.24" cy="724.30" r="4.3" fill="#000"/>
<line x1="191.72" y1="721.41" x2="191.72" y2="723.82" stroke="#000" stroke-width="1.8" />
<line x1="183.92" y1="721.41" x2="199.52" y2="721.41" stroke="#000" stroke-width="2" />
<line x1="183.92" y1="723.82" x2="199.52" y2="723.82" stroke="#000" stroke-width="2" />
<circle cx="191.72" cy="722.61" r="4.3" fill="#000"/>
<line x1="217.20" y1="714.66" x2="217.20" y2="718.51" stroke="#000" stroke-width="1.8" />
<line x1="209.40" y1="714.66" x2="225.00" y2="714.66" stroke="#000" stroke-width="2" />
<line x1="209.40" y1="718.51" x2="225.00" y2="718.51" stroke="#000" stroke-width="2" />
<circle cx="217.20" cy="716.58" r="4.3" fill="#000"/>
<line x1="242.68" y1="697.54" x2="242.68" y2="701.40" stroke="#000" stroke-width="1.8" />
<line x1="234.88" y1="697.54" x2="250.48" y2="697.54" stroke="#000" stroke-width="2" />
<line x1="234.88" y1="701.40" x2="250.48" y2="701.40" stroke="#000" stroke-width="2" />
<circle cx="242.68" cy="699.47" r="4.3" fill="#000"/>
<line x1="268.16" y1="662.82" x2="268.16" y2="672.46" stroke="#000" stroke-width="1.8" />
<line x1="260.36" y1="662.82" x2="275.96" y2="662.82" stroke="#000" stroke-width="2" />
<line x1="260.36" y1="672.46" x2="275.96" y2="672.46" stroke="#000" stroke-width="2" />
<circle cx="268.16" cy="667.64" r="4.3" fill="#000"/>
<line x1="293.64" y1="625.45" x2="293.64" y2="635.09" stroke="#000" stroke-width="1.8" />
<line x1="285.84" y1="625.45" x2="301.44" y2="625.45" stroke="#000" stroke-width="2" />
<line x1="285.84" y1="635.09" x2="301.44" y2="635.09" stroke="#000" stroke-width="2" />
<circle cx="293.64" cy="630.27" r="4.3" fill="#000"/>
<line x1="319.12" y1="583.50" x2="319.12" y2="593.14" stroke="#000" stroke-width="1.8" />
<line x1="311.32" y1="583.50" x2="326.92" y2="583.50" stroke="#000" stroke-width="2" />
<line x1="311.32" y1="593.14" x2="326.92" y2="593.14" stroke="#000" stroke-width="2" />
<circle cx="319.12" cy="588.32" r="4.3" fill="#000"/>
<line x1="344.60" y1="542.99" x2="344.60" y2="550.23" stroke="#000" stroke-width="1.8" />
<line x1="336.80" y1="542.99" x2="352.40" y2="542.99" stroke="#000" stroke-width="2" />
<line x1="336.80" y1="550.23" x2="352.40" y2="550.23" stroke="#000" stroke-width="2" />
<circle cx="344.60" cy="546.61" r="4.3" fill="#000"/>
<line x1="370.08" y1="517.68" x2="370.08" y2="522.50" stroke="#000" stroke-width="1.8" />
<line x1="362.28" y1="517.68" x2="377.88" y2="517.68" stroke="#000" stroke-width="2" />
<line x1="362.28" y1="522.50" x2="377.88" y2="522.50" stroke="#000" stroke-width="2" />
<circle cx="370.08" cy="520.09" r="4.3" fill="#000"/>
<line x1="395.56" y1="500.56" x2="395.56" y2="505.38" stroke="#000" stroke-width="1.8" />
<line x1="387.76" y1="500.56" x2="403.36" y2="500.56" stroke="#000" stroke-width="2" />
<line x1="387.76" y1="505.38" x2="403.36" y2="505.38" stroke="#000" stroke-width="2" />
<circle cx="395.56" cy="502.97" r="4.3" fill="#000"/>
<line x1="82.00" y1="724.30" x2="97.60" y2="724.30" stroke="#d8232a" stroke-width="2" />
<line x1="82.00" y1="724.30" x2="97.60" y2="724.30" stroke="#d8232a" stroke-width="2" />
<polygon points="84.80,724.30 89.80,720.50 94.80,724.30 89.80,728.10" fill="#d8232a"/>
<line x1="115.28" y1="697.18" x2="115.28" y2="711.64" stroke="#d8232a" stroke-width="1.8" />
<line x1="107.48" y1="697.18" x2="123.08" y2="697.18" stroke="#d8232a" stroke-width="2" />
<line x1="107.48" y1="711.64" x2="123.08" y2="711.64" stroke="#d8232a" stroke-width="2" />
<polygon points="110.28,704.41 115.28,700.61 120.28,704.41 115.28,708.21" fill="#d8232a"/>
<line x1="132.96" y1="483.20" x2="148.56" y2="483.20" stroke="#d8232a" stroke-width="2" />
<line x1="132.96" y1="483.20" x2="148.56" y2="483.20" stroke="#d8232a" stroke-width="2" />
<polygon points="135.76,483.20 140.76,479.40 145.76,483.20 140.76,487.00" fill="#d8232a"/>
<line x1="158.44" y1="483.20" x2="174.04" y2="483.20" stroke="#d8232a" stroke-width="2" />
<line x1="158.44" y1="483.20" x2="174.04" y2="483.20" stroke="#d8232a" stroke-width="2" />
<polygon points="161.24,483.20 166.24,479.40 171.24,483.20 166.24,487.00" fill="#d8232a"/>
<line x1="183.92" y1="483.20" x2="199.52" y2="483.20" stroke="#d8232a" stroke-width="2" />
<line x1="183.92" y1="483.20" x2="199.52" y2="483.20" stroke="#d8232a" stroke-width="2" />
<polygon points="186.72,483.20 191.72,479.40 196.72,483.20 191.72,487.00" fill="#d8232a"/>
<line x1="209.40" y1="483.20" x2="225.00" y2="483.20" stroke="#d8232a" stroke-width="2" />
<line x1="209.40" y1="483.20" x2="225.00" y2="483.20" stroke="#d8232a" stroke-width="2" />
<polygon points="212.20,483.20 217.20,479.40 222.20,483.20 217.20,487.00" fill="#d8232a"/>
<line x1="234.88" y1="483.20" x2="250.48" y2="483.20" stroke="#d8232a" stroke-width="2" />
<line x1="234.88" y1="483.20" x2="250.48" y2="483.20" stroke="#d8232a" stroke-width="2" />
<polygon points="237.68,483.20 242.68,479.40 247.68,483.20 242.68,487.00" fill="#d8232a"/>
<line x1="260.36" y1="483.20" x2="275.96" y2="483.20" stroke="#d8232a" stroke-width="2" />
<line x1="260.36" y1="483.20" x2="275.96" y2="483.20" stroke="#d8232a" stroke-width="2" />
<polygon points="263.16,483.20 268.16,479.40 273.16,483.20 268.16,487.00" fill="#d8232a"/>
<line x1="285.84" y1="483.20" x2="301.44" y2="483.20" stroke="#d8232a" stroke-width="2" />
<line x1="285.84" y1="483.20" x2="301.44" y2="483.20" stroke="#d8232a" stroke-width="2" />
<polygon points="288.64,483.20 293.64,479.40 298.64,483.20 293.64,487.00" fill="#d8232a"/>
<line x1="311.32" y1="483.20" x2="326.92" y2="483.20" stroke="#d8232a" stroke-width="2" />
<line x1="311.32" y1="483.20" x2="326.92" y2="483.20" stroke="#d8232a" stroke-width="2" />
<polygon points="314.12,483.20 319.12,479.40 324.12,483.20 319.12,487.00" fill="#d8232a"/>
<line x1="336.80" y1="483.20" x2="352.40" y2="483.20" stroke="#d8232a" stroke-width="2" />
<line x1="336.80" y1="483.20" x2="352.40" y2="483.20" stroke="#d8232a" stroke-width="2" />
<polygon points="339.60,483.20 344.60,479.40 349.60,483.20 344.60,487.00" fill="#d8232a"/>
<line x1="362.28" y1="483.20" x2="377.88" y2="483.20" stroke="#d8232a" stroke-width="2" />
<line x1="362.28" y1="483.20" x2="377.88" y2="483.20" stroke="#d8232a" stroke-width="2" />
<polygon points="365.08,483.20 370.08,479.40 375.08,483.20 370.08,487.00" fill="#d8232a"/>
<line x1="387.76" y1="483.20" x2="403.36" y2="483.20" stroke="#d8232a" stroke-width="2" />
<line x1="387.76" y1="483.20" x2="403.36" y2="483.20" stroke="#d8232a" stroke-width="2" />
<polygon points="390.56,483.20 395.56,479.40 400.56,483.20 395.56,487.00" fill="#d8232a"/>
<line x1="312.10" y1="621.40" x2="342.90" y2="621.40" stroke="#000" stroke-width="3.6" />
<circle cx="327.5" cy="621.40" r="6.8" fill="#000"/>
<text id="t52" x="348.60" y="627.40" font-size="18.2" text-anchor="start" fill="#000" stroke="#000" font-weight="normal" >Wild type</text>
<line x1="312.10" y1="640.50" x2="342.90" y2="640.50" stroke="#d8232a" stroke-width="3.6" />
<polygon points="319.3,640.50 327.5,635.00 335.7,640.50 327.5,646.00" fill="#d8232a"/>
<text id="t53" x="348.60" y="646.50" font-size="18.2" text-anchor="start" fill="#000" stroke="#000" font-weight="normal" >Cpx-1</text>
<line x1="312.10" y1="659.60" x2="342.90" y2="659.60" stroke="#5f3fa0" stroke-width="3.6" />
<rect x="322.3" y="654.20" width="10.6" height="10.8" rx="1.2" fill="#fff" stroke="#5f3fa0" stroke-width="3"/>
<line x1="320.00" y1="659.60" x2="335.00" y2="659.60" stroke="#5f3fa0" stroke-width="3.6" />
<text id="t54" x="348.60" y="665.60" font-size="18.2" text-anchor="start" fill="#000" stroke="#000" font-weight="normal" >Full length</text>
<line x1="312.10" y1="678.70" x2="342.90" y2="678.70" stroke="#3a4ea3" stroke-width="3.6" />
<polygon points="327.5,670.70 335.2,684.00 319.8,684.00" fill="#3a4ea3" stroke="#3a4ea3" stroke-width="1" stroke-linejoin="round"/>
<text id="t55" x="348.60" y="684.70" font-size="18.2" text-anchor="start" fill="#000" stroke="#000" font-weight="normal" >Q114P;E119P</text>
<line x1="312.10" y1="697.80" x2="342.90" y2="697.80" stroke="#3f9a3f" stroke-width="3.6" />
<circle cx="327.5" cy="697.80" r="4.8" fill="#fff" stroke="#3f9a3f" stroke-width="3.6"/>
<line x1="320.00" y1="697.80" x2="335.00" y2="697.80" stroke="#3f9a3f" stroke-width="3.6" />
<text id="t56" x="348.60" y="703.80" font-size="18.2" text-anchor="start" fill="#000" stroke="#000" font-weight="normal" >K123P</text>
<path d="M450,648.3 C462,648.3 469.8,649 469.8,653.5 L469.8,673 C469.8,676.5 471.5,677.8 476,677.8 L489.5,677.8 M476,677.8 C471.5,677.8 469.8,679.1 469.8,682.6 L469.8,703.5 C469.8,708 462,708.5 450,708.5" fill="none" stroke="#000" stroke-width="1.8"/>
<text id="t57" x="497.40" y="683.80" font-size="17.6" text-anchor="start" fill="#000" stroke="#000" font-weight="normal" >Rescue</text>
<text id="t58" x="597.40" y="432.00" font-size="30.5" text-anchor="start" fill="#000" font-weight="bold" >d</text>
<line x1="664.40" y1="465.40" x2="664.40" y2="730.80" stroke="#000" stroke-width="2" />
<line x1="657.00" y1="729.70" x2="664.40" y2="729.70" stroke="#000" stroke-width="2" />
<text id="t59" x="650.60" y="735.00" font-size="17" text-anchor="end" fill="#000" stroke="#000" font-weight="normal" >0</text>
<line x1="657.00" y1="677.00" x2="664.40" y2="677.00" stroke="#000" stroke-width="2" />
<text id="t60" x="650.60" y="682.30" font-size="17" text-anchor="end" fill="#000" stroke="#000" font-weight="normal" >20</text>
<line x1="657.00" y1="624.30" x2="664.40" y2="624.30" stroke="#000" stroke-width="2" />
<text id="t61" x="650.60" y="629.60" font-size="17" text-anchor="end" fill="#000" stroke="#000" font-weight="normal" >40</text>
<line x1="657.00" y1="571.60" x2="664.40" y2="571.60" stroke="#000" stroke-width="2" />
<text id="t62" x="650.60" y="576.90" font-size="17" text-anchor="end" fill="#000" stroke="#000" font-weight="normal" >60</text>
<line x1="657.00" y1="518.90" x2="664.40" y2="518.90" stroke="#000" stroke-width="2" />
<text id="t63" x="650.60" y="524.20" font-size="17" text-anchor="end" fill="#000" stroke="#000" font-weight="normal" >80</text>
<line x1="657.00" y1="466.20" x2="664.40" y2="466.20" stroke="#000" stroke-width="2" />
<text id="t64" x="650.60" y="471.50" font-size="17" text-anchor="end" fill="#000" stroke="#000" font-weight="normal" >100</text>
<line x1="657.00" y1="729.80" x2="919.60" y2="729.80" stroke="#000" stroke-width="2" />
<line x1="664.70" y1="729.80" x2="664.70" y2="737.20" stroke="#000" stroke-width="2" />
<line x1="707.05" y1="729.80" x2="707.05" y2="737.20" stroke="#000" stroke-width="2" />
<line x1="749.40" y1="729.80" x2="749.40" y2="737.20" stroke="#000" stroke-width="2" />
<line x1="791.75" y1="729.80" x2="791.75" y2="737.20" stroke="#000" stroke-width="2" />
<line x1="834.10" y1="729.80" x2="834.10" y2="737.20" stroke="#000" stroke-width="2" />
<line x1="876.45" y1="729.80" x2="876.45" y2="737.20" stroke="#000" stroke-width="2" />
<line x1="918.80" y1="729.80" x2="918.80" y2="737.20" stroke="#000" stroke-width="2" />
<rect x="673.35" y="721.80" width="25.10" height="7.90" fill="#000" />
<line x1="685.90" y1="720.21" x2="685.90" y2="721.80" stroke="#000" stroke-width="1.6" />
<line x1="679.90" y1="720.21" x2="691.90" y2="720.21" stroke="#000" stroke-width="1.8" />
<rect x="715.75" y="466.73" width="25.10" height="262.97" fill="#000" />
<line x1="715.75" y1="466.73" x2="740.85" y2="466.73" stroke="#000" stroke-width="1.2" />
<rect x="758.15" y="719.69" width="25.10" height="10.01" fill="#000" />
<line x1="770.70" y1="715.21" x2="770.70" y2="719.69" stroke="#000" stroke-width="1.6" />
<line x1="764.70" y1="715.21" x2="776.70" y2="715.21" stroke="#000" stroke-width="1.8" />
<rect x="800.55" y="624.30" width="25.10" height="105.40" fill="#000" />
<line x1="813.10" y1="595.32" x2="813.10" y2="624.30" stroke="#000" stroke-width="1.6" />
<line x1="807.10" y1="595.32" x2="819.10" y2="595.32" stroke="#000" stroke-width="1.8" />
<rect x="842.95" y="575.03" width="25.10" height="154.67" fill="#000" />
<line x1="855.50" y1="543.93" x2="855.50" y2="575.03" stroke="#000" stroke-width="1.6" />
<line x1="849.50" y1="543.93" x2="861.50" y2="543.93" stroke="#000" stroke-width="1.8" />
<rect x="885.35" y="574.50" width="25.10" height="155.20" fill="#000" />
<line x1="897.90" y1="554.74" x2="897.90" y2="574.50" stroke="#000" stroke-width="1.6" />
<line x1="891.90" y1="554.74" x2="903.90" y2="554.74" stroke="#000" stroke-width="1.8" />
<text id="t65" x="771.00" y="707.00" font-size="17.5" text-anchor="middle" fill="#000" stroke="#000" font-weight="normal" >#</text>
<g stroke="#000" stroke-width="1.7" stroke-linecap="round"><line x1="809.60" y1="530.50" x2="809.60" y2="527.20"/><line x1="809.60" y1="530.50" x2="812.74" y2="529.48"/><line x1="809.60" y1="530.50" x2="811.54" y2="533.17"/><line x1="809.60" y1="530.50" x2="807.66" y2="533.17"/><line x1="809.60" y1="530.50" x2="806.46" y2="529.48"/></g>
<g stroke="#000" stroke-width="1.7" stroke-linecap="round"><line x1="856.90" y1="530.50" x2="856.90" y2="527.20"/><line x1="856.90" y1="530.50" x2="860.04" y2="529.48"/><line x1="856.90" y1="530.50" x2="858.84" y2="533.17"/><line x1="856.90" y1="530.50" x2="854.96" y2="533.17"/><line x1="856.90" y1="530.50" x2="853.76" y2="529.48"/></g>
<g stroke="#000" stroke-width="1.7" stroke-linecap="round"><line x1="897.50" y1="541.30" x2="897.50" y2="538.00"/><line x1="897.50" y1="541.30" x2="900.64" y2="540.28"/><line x1="897.50" y1="541.30" x2="899.44" y2="543.97"/><line x1="897.50" y1="541.30" x2="895.56" y2="543.97"/><line x1="897.50" y1="541.30" x2="894.36" y2="540.28"/></g>
<text id="t66" x="689.40" y="753.30" font-size="17.5" text-anchor="end" fill="#000" stroke="#000" font-weight="normal" transform="rotate(-45 689.40 753.30)" >Wild type</text>
<text id="t67" x="730.65" y="752.35" font-size="17.5" text-anchor="end" fill="#000" stroke="#000" font-weight="normal" transform="rotate(-45 730.65 752.35)" >Cpx-1</text>
<text id="t68" x="775.85" y="748.90" font-size="17.5" text-anchor="end" fill="#000" stroke="#000" font-weight="normal" transform="rotate(-45 775.85 748.90)" >Full length</text>
<text id="t69" x="818.60" y="751.00" font-size="17.5" text-anchor="end" fill="#000" stroke="#000" font-weight="normal" transform="rotate(-45 818.60 751.00)" >Q114P;E119P</text>
<text id="t70" x="864.30" y="749.90" font-size="17.5" text-anchor="end" fill="#000" stroke="#000" font-weight="normal" transform="rotate(-45 864.30 749.90)" >K123P</text>
<text id="t71" x="904.10" y="749.60" font-size="17.5" text-anchor="end" fill="#000" stroke="#000" font-weight="normal" transform="rotate(-45 904.10 749.60)" >E99P</text>
<line x1="738.90" y1="839.70" x2="915.70" y2="839.70" stroke="#000" stroke-width="1.6" />
<text id="t72" x="846.90" y="860.10" font-size="17.6" text-anchor="middle" fill="#000" stroke="#000" font-weight="normal" >Rescue</text>
<text id="t73" x="613.70" y="598.60" font-size="17.9" text-anchor="middle" fill="#000" stroke="#000" font-weight="normal" transform="rotate(-90 613.7 598.6)" >% Paralyzed at 50 min</text>
</svg>
</body></html>
